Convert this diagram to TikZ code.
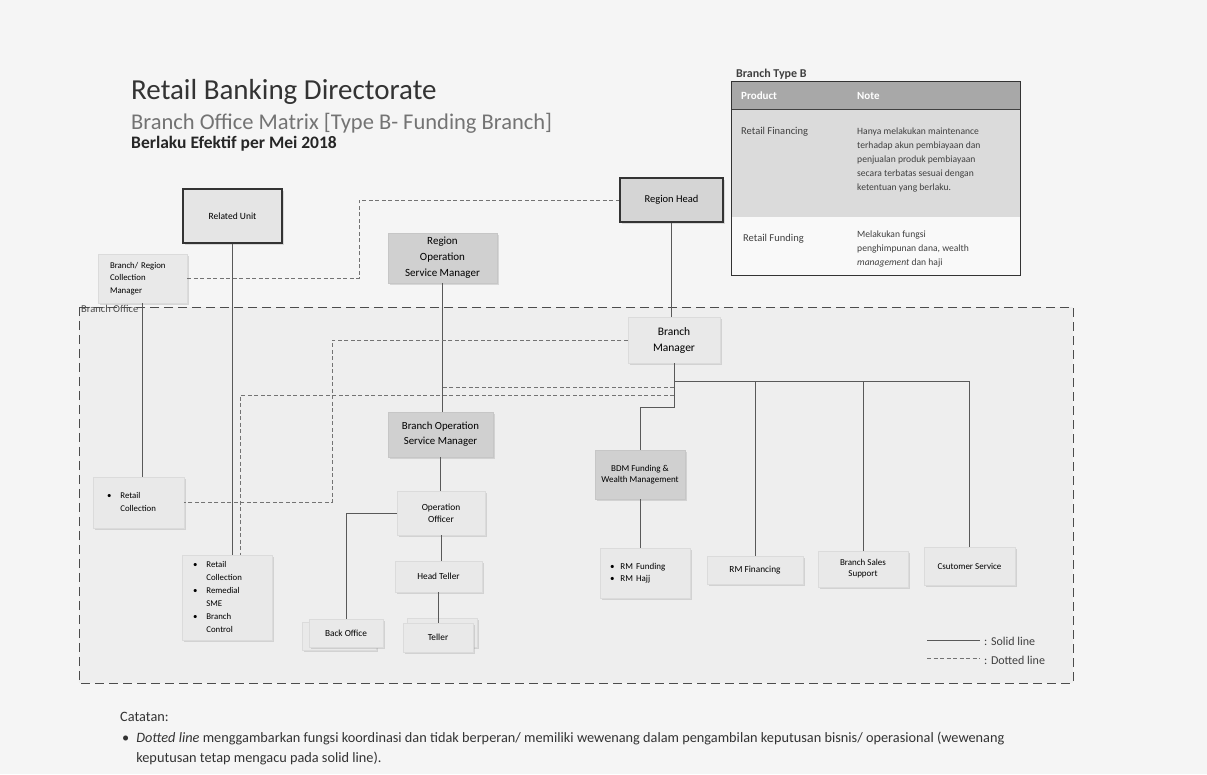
\documentclass[tikz,border=0pt]{standalone}
\usepackage{fontspec}
\setmainfont{Carlito}
\usetikzlibrary{shadows}
\newcommand{\bpt}{\textbullet}
\tikzset{
  orgbox/.style={fill=gray!17, draw=gray!28, line width=0.5pt, align=center, inner sep=2pt,
    font=\fontsize{9.3}{11.5}\selectfont,
    drop shadow={shadow xshift=1.5pt, shadow yshift=-1.5pt, opacity=0.25}},
  opsbox/.style={orgbox, fill=gray!37, draw=gray!45, font=\fontsize{10.8}{15}\selectfont},
  unitbox/.style={orgbox, draw=black!80, line width=1.3pt},
  listbox/.style={orgbox, align=left},
  solidln/.style={draw=black!65, line width=0.7pt},
  dotln/.style={draw=black!55, line width=0.6pt, dash pattern=on 4pt off 2.5pt},
  tbltxt/.style={inner sep=0pt, anchor=base west, font=\fontsize{10.5}{14.2}\selectfont, text=black!75},
  tblnote/.style={tbltxt, font=\fontsize{9.6}{14.2}\selectfont},
}
\begin{document}
\begin{tikzpicture}[x=1pt, y=-1pt]
  \useasboundingbox (0,0) rectangle (1207,774);
  \fill[gray!8] (0,0) rectangle (1207,774);
  \node[anchor=base west, inner sep=0pt, font=\fontsize{29}{31}\selectfont, text=black!80] (ttl) at (131,99) {Retail Banking Directorate};
  \node[anchor=base west, inner sep=0pt, font=\fontsize{22.5}{24}\selectfont, text=black!55] (subttl) at (131,129) {Branch Office Matrix [Type B- Funding Branch]};
  \node[anchor=base west, inner sep=0pt, font=\fontsize{17.5}{19}\selectfont\bfseries, text=black!85] (eff) at (131,148) {Berlaku Efektif per Mei 2018};

  \node[anchor=base west, inner sep=0pt, font=\fontsize{12}{14}\selectfont\bfseries, text=black!75] (btype) at (736,77) {Branch Type B};
  \node[fill=gray!68, minimum width=288pt, minimum height=27pt, inner sep=0pt] (tblhd) at (876,95.5) {};
  \node[fill=gray!28, minimum width=288pt, minimum height=108pt, inner sep=0pt] (tblr1) at (876,163) {};
  \node[fill=gray!5, minimum width=288pt, minimum height=58pt, inner sep=0pt] (tblr2) at (876,246) {};
  \draw[line width=1pt, black!75] (tblhd.south west) -- (tblhd.south east);
  \draw[line width=1.3pt, black!80] (tblhd.north west) rectangle (tblr2.south east);
  \node[tbltxt, text=white, font=\fontsize{11}{13}\selectfont\bfseries] (hprod) at (741,99) {Product};
  \node[tbltxt, text=white, font=\fontsize{11}{13}\selectfont\bfseries] (hnote) at (857,99) {Note};
  \node[tbltxt] (prod1) at (741,134) {Retail Financing};
  \node[tblnote] (note1) at (857,134) {\begin{tabular}[t]{@{}l@{}}Hanya melakukan maintenance\\ terhadap akun pembiayaan dan\\ penjualan produk pembiayaan\\ secara terbatas sesuai dengan\\ ketentuan yang berlaku.\end{tabular}};
  \node[tbltxt] (prod2) at (743,241) {Retail Funding};
  \node[tblnote] (note2) at (857,237) {\begin{tabular}[t]{@{}l@{}}Melakukan fungsi\\ penghimpunan dana, wealth\\ \textit{management} dan haji\end{tabular}};

  \fill[gray!13] (79,307) rectangle (1073,683);
  \node[anchor=west, inner sep=1pt, font=\fontsize{10.5}{12}\selectfont, text=black!70] (boff) at (80,309) {Branch Office};
  \draw[black!70, line width=1pt, dash pattern=on 9pt off 5pt] (79,307) rectangle (1073,683);

  \node[unitbox, fill=gray!20, minimum width=99pt, minimum height=54pt, font=\fontsize{9.5}{11}\selectfont] (relunit) at (232.5,216) {Related Unit};
  \node[unitbox, fill=gray!33, minimum width=103pt, minimum height=44pt, font=\fontsize{10.5}{12}\selectfont] (rhead) at (671.5,200) {Region Head};
  \node[listbox, minimum width=89pt, minimum height=49pt, text width=65pt, inner xsep=12pt, font=\fontsize{8.8}{12.3}\selectfont] (brcm) at (142.5,278.5) {Branch/ Region\\ Collection\\ Manager};
  \node[opsbox, minimum width=109pt, minimum height=50pt, font=\fontsize{11}{16}\selectfont] (rosm) at (442.5,258) {Region\\ Operation\\ Service Manager};
  \node[orgbox, minimum width=92pt, minimum height=46pt, font=\fontsize{11.5}{16}\selectfont] (bman) at (674,340) {Branch\\ Manager};
  \node[opsbox, minimum width=105pt, minimum height=45pt] (bosm) at (440.5,434.5) {Branch Operation\\ Service Manager};
  \node[listbox, minimum width=91pt, minimum height=51pt, text width=63pt, inner xsep=14pt, font=\fontsize{8.8}{12.5}\selectfont] (rcoll) at (138.5,502.5) {\begin{tabular}{@{}l@{\hspace{9pt}}l@{}}\bpt & Retail\\ & Collection\end{tabular}};
  \node[listbox, minimum width=90pt, minimum height=85pt, text width=68pt, inner xsep=11pt, font=\fontsize{8.8}{13}\selectfont] (rcrem) at (227,597.5) {\begin{tabular}{@{}l@{\hspace{9pt}}l@{}}\bpt & Retail\\ & Collection\\ \bpt & Remedial\\ & SME\\ \bpt & Branch\\ & Control\end{tabular}};
  \node[orgbox, minimum width=88pt, minimum height=44pt, font=\fontsize{9.4}{12.3}\selectfont] (opoff) at (441,513) {Operation\\ Officer};
  \node[orgbox, minimum width=87pt, minimum height=31pt] (hteller) at (438.5,576.5) {Head Teller};
  \node[orgbox, minimum width=74pt, minimum height=28pt, xshift=-7pt, yshift=-3pt] at (346,633) {};
  \node[orgbox, minimum width=74pt, minimum height=28pt] (boffice) at (346,633) {Back Office};
  \node[orgbox, minimum width=70pt, minimum height=29pt, xshift=4pt, yshift=5pt] at (438,637.5) {};
  \node[orgbox, minimum width=70pt, minimum height=29pt] (teller) at (438,637.5) {Teller};
  \node[opsbox, minimum width=90pt, minimum height=49pt, font=\fontsize{9}{11.5}\selectfont] (bdm) at (640,474.5) {BDM Funding \&\\ Wealth Management};
  \node[listbox, minimum width=90pt, minimum height=50pt, text width=70pt, inner xsep=10pt, font=\fontsize{9}{12.5}\selectfont] (rmfund) at (645,573) {\begin{tabular}{@{}l@{\hspace{6pt}}l@{}}\bpt & RM Funding\\ \bpt & RM Hajj\end{tabular}};
  \node[orgbox, minimum width=96pt, minimum height=28pt] (rmfin) at (755,570) {RM Financing};
  \node[orgbox, minimum width=90pt, minimum height=36pt, font=\fontsize{9}{11}\selectfont] (bss) at (863,569) {Branch Sales\\ Support};
  \node[orgbox, minimum width=91pt, minimum height=38pt, font=\fontsize{9}{11}\selectfont] (cserv) at (969.5,566) {Csutomer Service};

  \draw[solidln] (relunit.south) -- (relunit.south |- rcrem.north);
  \draw[solidln] (brcm.south) -- (brcm.south |- rcoll.north);
  \draw[solidln] (rosm.south) -- (rosm.south |- bosm.north);
  \draw[solidln] (bosm.south) -- (bosm.south |- opoff.north);
  \draw[solidln] (opoff.west) -| (boffice.north);
  \draw[solidln] (opoff.south) -- (opoff.south |- hteller.north);
  \draw[solidln] (hteller.south) -- (hteller.south |- teller.north);
  \draw[solidln] (rhead.south) -- (rhead.south |- bman.north);
  \draw[solidln] (bman.south) -- (bman.south |- 0,407) -| (bdm.north);
  \draw[solidln] (bdm.south) -- (bdm.south |- rmfund.north);
  \draw[solidln] (bman.south |- 0,381) -- (cserv.north |- 0,381);
  \foreach \n in {rmfin,bss,cserv}
    \draw[solidln] (\n.north |- 0,381) -- (\n.north);

  \draw[dotln] (brcm.east) -| (359,200) -- (rhead.west);
  \draw[dotln] (bman.west) -| (332,502.5) -- (rcoll.east);
  \draw[dotln] (bman.south |- 0,387) -- (rosm.south |- 0,387);
  \draw[dotln] (bman.south |- 0,395) -| ([xshift=13pt]rcrem.north);

  \node[anchor=west, inner sep=1pt, font=\fontsize{12}{14}\selectfont, text=black!75] (lgsolid) at (983,641) {: Solid line};
  \node[anchor=west, inner sep=1pt, font=\fontsize{12}{14}\selectfont, text=black!75] (lgdot) at (983,660) {: Dotted line};
  \coordinate (lgsa) at (927,640);
  \coordinate (lgda) at (927,658);
  \draw[solidln] (lgsa) -- ([xshift=-3pt]lgsolid.west |- lgsa);
  \draw[dotln] (lgda) -- ([xshift=-3pt]lgdot.west |- lgda);

  \node[anchor=base west, inner sep=0pt, font=\fontsize{14.3}{16}\selectfont, text=black!80] (catatan) at (120,721) {Catatan:};
  \node[anchor=base west, inner sep=0pt, font=\fontsize{14.3}{20}\selectfont, text=black!80] (notebody) at (122,742) {\begin{tabular}[t]{@{}l@{\hspace{7pt}}l@{}}\bpt & \textit{Dotted line} menggambarkan fungsi koordinasi dan tidak berperan/ memiliki wewenang dalam pengambilan keputusan bisnis/ operasional (wewenang\\ & keputusan tetap mengacu pada solid line).\end{tabular}};
\end{tikzpicture}
\end{document}
